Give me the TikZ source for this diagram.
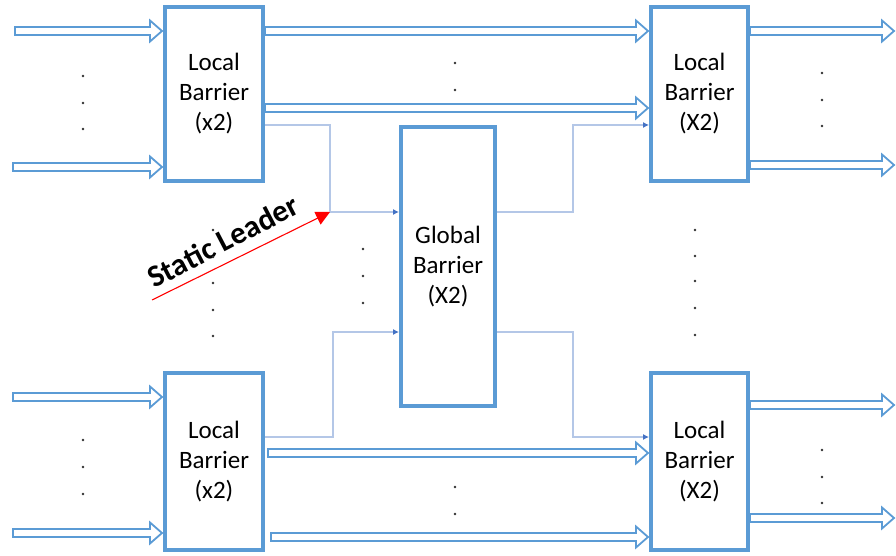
\documentclass[tikz,border=0pt]{standalone}
\usepackage{fontspec}
\setmainfont{Carlito}
\usetikzlibrary{arrows.meta, positioning, calc}

\definecolor{boxBlue}{HTML}{5B9BD5}
\definecolor{thinBlue}{HTML}{B4C7E7}
\definecolor{tipBlue}{HTML}{4472C4}
\definecolor{dotGray}{HTML}{303030}

\begin{document}
\begin{tikzpicture}[
        x=1pt, y=-1pt,
        font=\fontsize{25}{30}\selectfont,
        % styles
        barrier/.style={rectangle, draw=boxBlue, line width=4pt, fill=white, align=center, inner sep=0pt},
        % hollow block arrow, left to right
        bus/.style={draw=boxBlue, line width=1.8pt, fill=white, miter limit=4,
            to path={let \p1=(\tikztostart), \p2=(\tikztotarget) in
                ({\x1},{\y1+4pt}) -- ({\x2-13pt},{\y1+4pt}) -- ({\x2-13pt},{\y1+10.5pt})
                -- ({\x2-1pt},{\y1}) -- ({\x2-13pt},{\y1-10.5pt}) -- ({\x2-13pt},{\y1-4pt})
                -- ({\x1},{\y1-4pt}) -- cycle}},
        sync/.style={draw=thinBlue, line width=1.1pt, -{Latex[length=6pt, width=6pt, color=tipBlue]}},
        leader/.style={draw=red, line width=1.1pt, -{Triangle[length=14pt, width=14pt]}},
        dotsym/.style={circle, fill=dotGray, inner sep=0pt, minimum size=2.6pt}
    ]

    \useasboundingbox (0,0) rectangle (896,556);

    % nodes

    % local barriers, four corners
    \node [barrier, minimum width=98pt, minimum height=174pt] (ltl) at (214,94) {Local\\Barrier\\(x2)};
    \node [barrier, minimum width=97pt, minimum height=174pt] (ltr) at (699.5,94) {Local\\Barrier\\(X2)};
    \node [barrier, minimum width=98pt, minimum height=177pt] (lbl) at (214,461.5) {Local\\Barrier\\(x2)};
    \node [barrier, minimum width=97pt, minimum height=177pt] (lbr) at (699.5,461.5) {Local\\Barrier\\(X2)};

    % global barrier in the middle
    \node [barrier, minimum width=94pt, minimum height=279pt] (glob) at (448,266.5) {Global\\Barrier\\(X2)};

    % free ends of the buses
    \coordinate (inA) at (15,31);
    \coordinate (inB) at (13,167);
    \coordinate (inC) at (13,397);
    \coordinate (inD) at (13,533);
    \coordinate (outA) at (895,31);
    \coordinate (outB) at (895,165);
    \coordinate (outC) at (895,405);
    \coordinate (outD) at (895,518);

    % rows of the inner buses and sync lines
    \coordinate (rowA) at (0,108);
    \coordinate (rowB) at (0,125);
    \coordinate (rowC) at (0,212);
    \coordinate (rowD) at (0,332);
    \coordinate (rowE) at (0,437);
    \coordinate (rowF) at (0,453);
    \coordinate (rowG) at (0,537);

    % bends of the sync lines
    \coordinate (lead) at (330,212);
    \coordinate (bendL) at (333,332);
    \coordinate (bendR) at (573,212);

    % connections

    % sync through the global barrier
    \draw [sync] (rowB -| ltl.east) -| (lead) -- (rowC -| glob.west);
    \draw [sync] (rowE -| lbl.east) -| (bendL) -- (rowD -| glob.west);
    \draw [sync] (rowC -| glob.east) -- (bendR) |- (rowB -| ltr.west);
    \draw [sync] (rowD -| glob.east) -| (rowE -| bendR) -- (rowE -| lbr.west);

    % inputs
    \draw [bus] (inA) to (inA -| ltl.west);
    \draw [bus] (inB) to (inB -| ltl.west);
    \draw [bus] (inC) to (inC -| lbl.west);
    \draw [bus] (inD) to (inD -| lbl.west);

    % local to local
    \draw [bus] (inA -| ltl.east) to (inA -| ltr.west);
    \draw [bus] (rowA -| ltl.east) to (rowA -| ltr.west);
    \draw [bus] ([xshift=3pt]rowF -| lbl.east) to (rowF -| lbr.west);
    \draw [bus] ([xshift=6pt]rowG -| lbl.east) to (rowG -| lbr.west);

    % outputs
    \draw [bus] (outA -| ltr.east) to (outA);
    \draw [bus] (outB -| ltr.east) to (outB);
    \draw [bus] (outC -| lbr.east) to (outC);
    \draw [bus] (outD -| lbr.east) to (outD);

    % static leader
    \coordinate (leadTail) at (152,300);
    \draw [leader] (leadTail) -- (lead);
    \node [rotate=27.5, font=\fontsize{31}{34}\selectfont\bfseries] (leadLbl) at (223,241) {Static Leader};

    % dots
    \foreach \y in {76,103,129} \node [dotsym] at (83,\y) {};
    \foreach \y in {440,467,494} \node [dotsym] at (83,\y) {};
    \foreach \y in {63,90} \node [dotsym] at (455,\y) {};
    \foreach \y in {487,514} \node [dotsym] at (455,\y) {};
    \foreach \y in {73,100,126} \node [dotsym] at (822,\y) {};
    \foreach \y in {450,477,503} \node [dotsym] at (822,\y) {};
    \foreach \y in {230,257,283,310,336} \node [dotsym] at (213,\y) {};
    \foreach \y in {249,276,303} \node [dotsym] at (363,\y) {};
    \foreach \y in {230,256,281,308,335} \node [dotsym] at (695,\y) {};

\end{tikzpicture}
\end{document}
